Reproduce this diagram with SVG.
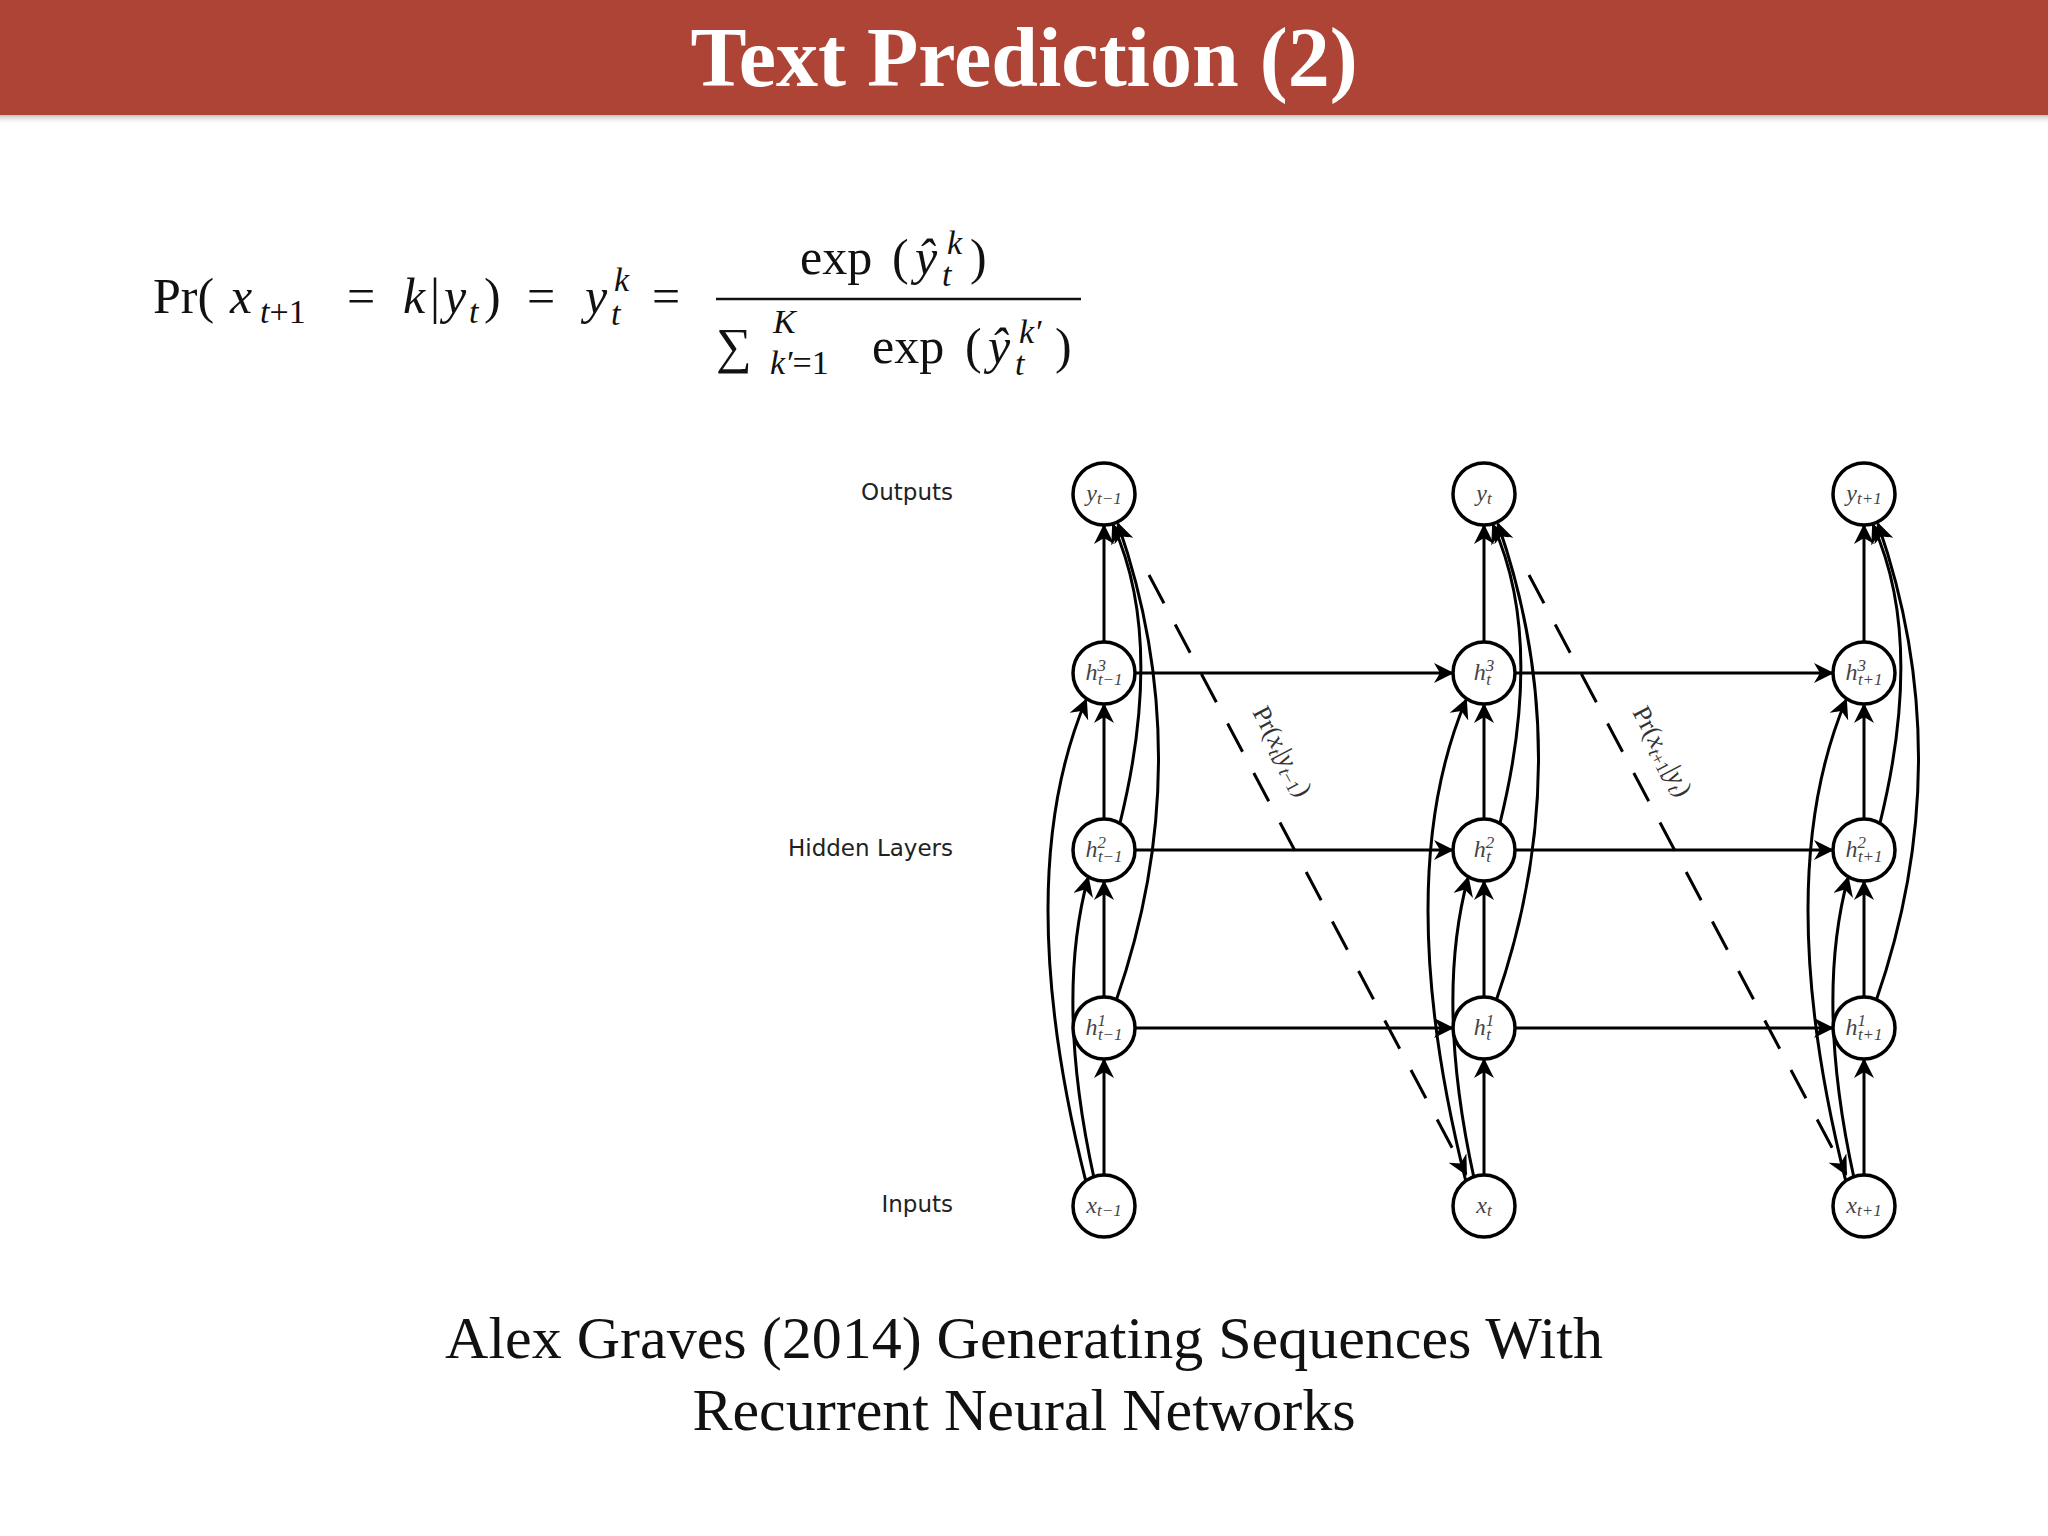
<svg xmlns="http://www.w3.org/2000/svg" width="2048" height="1536" viewBox="0 0 2048 1536">
<defs>
<marker id="ah" viewBox="0 0 10 10" refX="9" refY="5" markerWidth="20" markerHeight="20" markerUnits="userSpaceOnUse" orient="auto"><path d="M0,0 L10,5 L0,10 L3,5 z" fill="#000"/></marker>
<linearGradient id="sh" x1="0" y1="0" x2="0" y2="1"><stop offset="0" stop-color="#888" stop-opacity="0.5"/><stop offset="1" stop-color="#fff" stop-opacity="0"/></linearGradient>
</defs>
<style>
.n{fill:#fff;stroke:#000;stroke-width:3.5}
.nl{font-family:"Liberation Serif",serif;font-style:italic;font-size:24px;fill:#444;text-anchor:middle}
.e{fill:none;stroke:#000;stroke-width:3;marker-end:url(#ah)}
.lab{font-family:"DejaVu Sans",sans-serif;font-size:23px;fill:#222;text-anchor:end}
.m{font-family:"Liberation Serif",serif;font-size:50px;fill:#111}
.s{font-size:34px}
.i{font-style:italic}
</style>
<rect width="2048" height="1536" fill="#fff"/>
<rect x="0" y="115" width="2048" height="10" fill="url(#sh)"/>
<rect x="0" y="0" width="2048" height="115" fill="#ae4435"/>
<text x="1024" y="86" font-family="Liberation Serif,serif" font-weight="bold" font-size="84" fill="#fff" text-anchor="middle">Text Prediction (2)</text>

<g id="formula" class="m">
<text x="153" y="313">Pr(</text>
<text x="230" y="313" class="i">x</text>
<text x="260" y="323" class="s"><tspan class="i">t</tspan>+1</text>
<text x="347" y="313">=</text>
<text x="403" y="313" class="i">k</text>
<text x="430" y="313">|</text>
<text x="444" y="313" class="i">y</text>
<text x="469" y="323" class="s i">t</text>
<text x="484" y="313">)</text>
<text x="527" y="313">=</text>
<text x="585" y="313" class="i">y</text>
<text x="614" y="291" class="s i">k</text>
<text x="611" y="325" class="s i">t</text>
<text x="652" y="313">=</text>
<text x="800" y="274">exp</text>
<text x="892" y="274">(</text>
<text x="915" y="274" class="i">ŷ</text>
<text x="947" y="254" class="s i">k</text>
<text x="942" y="286" class="s i">t</text>
<text x="970" y="274">)</text>
<line x1="716" y1="299" x2="1081" y2="299" stroke="#111" stroke-width="2.5"/>
<text x="716" y="363">∑</text>
<text x="773" y="333" class="s i">K</text>
<text x="770" y="374" class="s"><tspan class="i">k′</tspan>=1</text>
<text x="872" y="363">exp</text>
<text x="965" y="363">(</text>
<text x="988" y="363" class="i">ŷ</text>
<text x="1019" y="343" class="s i">k′</text>
<text x="1015" y="375" class="s i">t</text>
<text x="1055" y="363">)</text>
</g>

<g id="labels" class="lab">
<text x="953" y="500">Outputs</text>
<text x="953" y="856">Hidden Layers</text>
<text x="953" y="1212">Inputs</text>
</g>

<g id="connectors">
<path class="e" d="M1104 1175 V1060"/><path class="e" d="M1104 997 V882"/><path class="e" d="M1104 819 V705"/><path class="e" d="M1104 642 V526"/>
<path class="e" d="M1484 1175 V1060"/><path class="e" d="M1484 997 V882"/><path class="e" d="M1484 819 V705"/><path class="e" d="M1484 642 V526"/>
<path class="e" d="M1864 1175 V1060"/><path class="e" d="M1864 997 V882"/><path class="e" d="M1864 819 V705"/><path class="e" d="M1864 642 V526"/>
<path class="e" d="M1135 673 H1452"/><path class="e" d="M1135 850 H1452"/><path class="e" d="M1135 1028 H1452"/>
<path class="e" d="M1515 673 H1832"/><path class="e" d="M1515 850 H1832"/><path class="e" d="M1515 1028 H1832"/>
<g id="skips">
<path class="e" d="M1094 1178 Q1055 1000 1088 878"/>
<path class="e" d="M1086 1182 Q1010 880 1086 700"/>
<path class="e" d="M1116 1001 Q1200 760 1118 524"/>
<path class="e" d="M1120 823 Q1165 640 1113 525"/>
<path class="e" d="M1474 1178 Q1435 1000 1468 878"/>
<path class="e" d="M1466 1182 Q1390 880 1466 700"/>
<path class="e" d="M1496 1001 Q1580 760 1498 524"/>
<path class="e" d="M1500 823 Q1545 640 1493 525"/>
<path class="e" d="M1854 1178 Q1815 1000 1848 878"/>
<path class="e" d="M1846 1182 Q1770 880 1846 700"/>
<path class="e" d="M1876 1001 Q1960 760 1878 524"/>
<path class="e" d="M1880 823 Q1925 640 1873 525"/>
</g>
<path class="e" d="M1149 575 L1466 1174" stroke-dasharray="32,24"/>
<path class="e" d="M1529 575 L1846 1174" stroke-dasharray="32,24"/>
<text transform="translate(1252,712) rotate(62)" font-family="Liberation Serif,serif" font-size="26" fill="#333">Pr(<tspan font-style="italic">x</tspan><tspan font-size="18" dy="5" font-style="italic">t</tspan><tspan dy="-5">|</tspan><tspan font-style="italic">y</tspan><tspan font-size="18" dy="5" font-style="italic">t</tspan><tspan font-size="18">−1</tspan><tspan dy="-5">)</tspan></text>
<text transform="translate(1632,712) rotate(62)" font-family="Liberation Serif,serif" font-size="26" fill="#333">Pr(<tspan font-style="italic">x</tspan><tspan font-size="18" dy="5" font-style="italic">t</tspan><tspan font-size="18">+1</tspan><tspan dy="-5">|</tspan><tspan font-style="italic">y</tspan><tspan font-size="18" dy="5" font-style="italic">t</tspan><tspan dy="-5">)</tspan></text>
</g>

<g id="n-y1"><circle class="n" cx="1104" cy="494" r="31"/><text class="nl" x="1104" y="501">y<tspan font-size="17" dy="3">t−1</tspan></text></g>
<g id="n-y2"><circle class="n" cx="1484" cy="494" r="31"/><text class="nl" x="1484" y="501">y<tspan font-size="17" dy="3">t</tspan></text></g>
<g id="n-y3"><circle class="n" cx="1864" cy="494" r="31"/><text class="nl" x="1864" y="501">y<tspan font-size="17" dy="3">t+1</tspan></text></g>
<g id="n-h31"><circle class="n" cx="1104" cy="673" r="31"/><text class="nl" x="1104" y="680">h<tspan font-size="17" dy="-9">3</tspan><tspan font-size="17" dx="-8" dy="14">t−1</tspan></text></g>
<g id="n-h32"><circle class="n" cx="1484" cy="673" r="31"/><text class="nl" x="1484" y="680">h<tspan font-size="17" dy="-9">3</tspan><tspan font-size="17" dx="-8" dy="14">t</tspan></text></g>
<g id="n-h33"><circle class="n" cx="1864" cy="673" r="31"/><text class="nl" x="1864" y="680">h<tspan font-size="17" dy="-9">3</tspan><tspan font-size="17" dx="-8" dy="14">t+1</tspan></text></g>
<g id="n-h21"><circle class="n" cx="1104" cy="850" r="31"/><text class="nl" x="1104" y="857">h<tspan font-size="17" dy="-9">2</tspan><tspan font-size="17" dx="-8" dy="14">t−1</tspan></text></g>
<g id="n-h22"><circle class="n" cx="1484" cy="850" r="31"/><text class="nl" x="1484" y="857">h<tspan font-size="17" dy="-9">2</tspan><tspan font-size="17" dx="-8" dy="14">t</tspan></text></g>
<g id="n-h23"><circle class="n" cx="1864" cy="850" r="31"/><text class="nl" x="1864" y="857">h<tspan font-size="17" dy="-9">2</tspan><tspan font-size="17" dx="-8" dy="14">t+1</tspan></text></g>
<g id="n-h11"><circle class="n" cx="1104" cy="1028" r="31"/><text class="nl" x="1104" y="1035">h<tspan font-size="17" dy="-9">1</tspan><tspan font-size="17" dx="-8" dy="14">t−1</tspan></text></g>
<g id="n-h12"><circle class="n" cx="1484" cy="1028" r="31"/><text class="nl" x="1484" y="1035">h<tspan font-size="17" dy="-9">1</tspan><tspan font-size="17" dx="-8" dy="14">t</tspan></text></g>
<g id="n-h13"><circle class="n" cx="1864" cy="1028" r="31"/><text class="nl" x="1864" y="1035">h<tspan font-size="17" dy="-9">1</tspan><tspan font-size="17" dx="-8" dy="14">t+1</tspan></text></g>
<g id="n-x1"><circle class="n" cx="1104" cy="1206" r="31"/><text class="nl" x="1104" y="1213">x<tspan font-size="17" dy="3">t−1</tspan></text></g>
<g id="n-x2"><circle class="n" cx="1484" cy="1206" r="31"/><text class="nl" x="1484" y="1213">x<tspan font-size="17" dy="3">t</tspan></text></g>
<g id="n-x3"><circle class="n" cx="1864" cy="1206" r="31"/><text class="nl" x="1864" y="1213">x<tspan font-size="17" dy="3">t+1</tspan></text></g>

<g id="caption" font-family="Liberation Serif,serif" font-size="60" fill="#111" text-anchor="middle">
<text x="1024" y="1358">Alex Graves (2014) Generating Sequences With</text>
<text x="1024" y="1430">Recurrent Neural Networks</text>
</g>
</svg>
